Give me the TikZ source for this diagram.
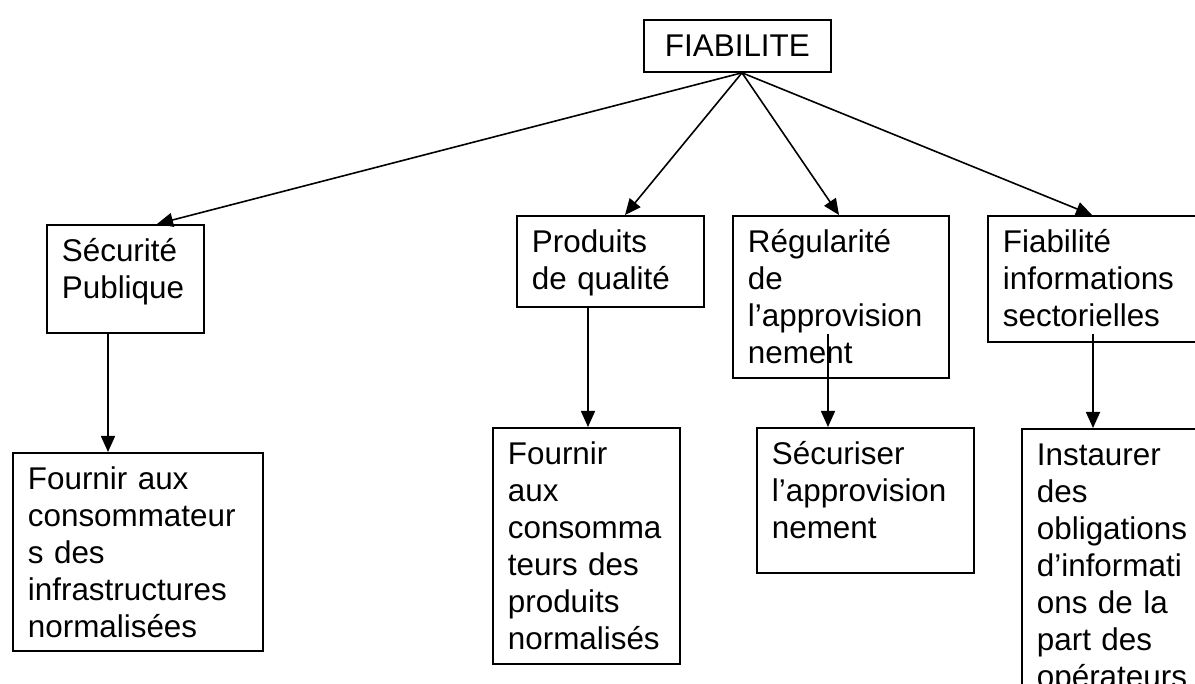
\documentclass[tikz,border=0pt]{standalone}
\usepackage{fontspec}
\setmainfont{Liberation Sans}
\usetikzlibrary{arrows.meta}
\tikzset{
    >={Triangle[length=8pt,width=7pt]},
    fleche/.style={draw,->,line width=0.8pt},
    bloc/.style={draw,rectangle,anchor=north west,align=left,line width=0.9pt,
                 inner xsep=7.5pt,inner ysep=5.5pt,text height=12.95pt,
                 font=\fontsize{15.7}{18.5}\selectfont}
}

\begin{document}
\begin{tikzpicture}[x=0.5pt,y=-0.5pt]

\useasboundingbox (0,0) rectangle (1195,684);

% Niveau 1
\node[bloc,align=center,text width=78.5pt,text depth=2.05pt] (fiab) at (643,19) {FIABILITE};

% Niveau 2
\node[bloc,text width=63.5pt,text depth=30.05pt] (secu) at (46,224) {Sécurité\\Publique};
\node[bloc,text width=78.5pt,text depth=21.55pt] (prod) at (516,215) {Produits\\de qualité};
\node[bloc,text width=93pt,text depth=57.05pt] (regu) at (732,215) {Régularité\\de\\l’approvision\\nement};
\node[bloc,text width=92.5pt,text depth=39.05pt] (finfo) at (987,215) {Fiabilité\\informations\\sectorielles};

% Niveau 3
\node[bloc,text width=110pt,text depth=75.05pt] (fourn1) at (12,452) {Fournir aux\\consommateur\\s des\\infrastructures\\normalisées};
\node[bloc,text width=78.5pt,text depth=94.05pt] (fourn2) at (492,427) {Fournir\\aux\\consomma\\teurs des\\produits\\normalisés};
\node[bloc,text width=93.5pt,text depth=48.55pt] (secur) at (756,427) {Sécuriser\\l’approvision\\nement};
\node[bloc,text width=78.5pt,text depth=126pt] (inst) at (1021,428) {Instaurer\\des\\obligations\\d’informati\\ons de la\\part des\\opérateurs};

% Liens
\draw[fleche] (fiab.south -| 742,0) -- (secu.north -| 157,0);
\draw[fleche] (fiab.south -| 742,0) -- (prod.north -| 625,0);
\draw[fleche] (fiab.south -| 742,0) -- (regu.north -| 839,0);
\draw[fleche] (fiab.south -| 742,0) -- (finfo.north -| 1092,0);

\draw[fleche] (secu.south -| 108,0) -- (fourn1.north -| 108,0);
\draw[fleche] (prod.south -| 588,0) -- (fourn2.north -| 588,0);
\draw[fleche] (regu.south -| 828,0) ++(0,-45) -- (secur.north -| 828,0);
\draw[fleche] (finfo.south -| 1093,0) ++(0,-9) -- (inst.north -| 1093,0);

\end{tikzpicture}
\end{document}
